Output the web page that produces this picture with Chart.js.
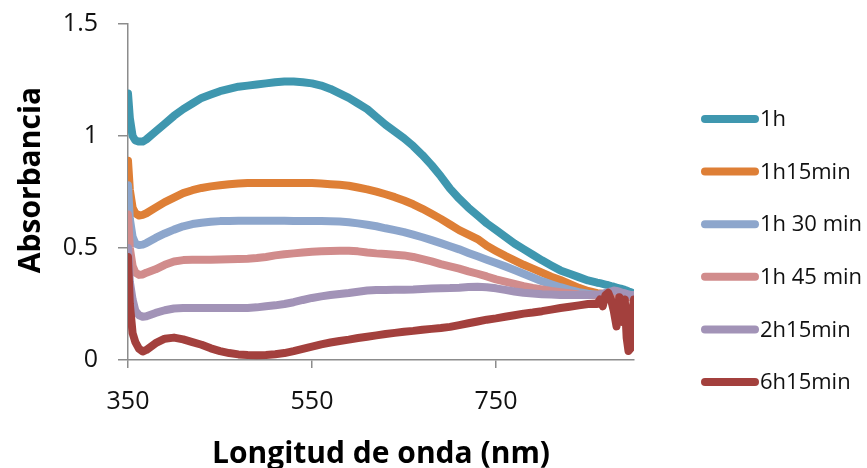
<!DOCTYPE html>
<html lang="es">
<head>
<meta charset="UTF-8">
<title>Absorbancia vs longitud de onda</title>
<style>
  html, body { margin: 0; padding: 0; background: #fff; }
  #wrap { width: 867px; height: 468px; }
</style>
</head>
<body>
<div id="wrap"><canvas id="spectra" width="867" height="468"></canvas></div>

<script src="https://cdn.jsdelivr.net/npm/chart.js"></script>
<script>
// longitudes de onda (nm), comunes a todas las series
const wavelengths = [350, 352, 355, 358, 362, 366, 370,
  380, 390, 400, 410, 420, 430, 440, 450, 460, 470, 480, 490, 500, 510, 520, 530, 540, 550,
  560, 570, 580, 590, 600, 610, 620, 630, 640, 650, 660, 670, 680, 690, 700, 710, 720, 730,
  740, 750, 760, 770, 780, 790, 800, 810, 820, 830, 840, 850,
  860, 863, 866, 869, 872, 875, 878, 881, 884, 887, 890, 892, 894, 896, 898, 900];

const abs1h = [1.19, 1.08, 1.00, 0.98, 0.975, 0.975, 0.985,
  1.02, 1.055, 1.09, 1.12, 1.145, 1.17, 1.185, 1.20, 1.21, 1.22, 1.225, 1.23, 1.235, 1.24, 1.243, 1.243, 1.24, 1.235,
  1.225, 1.21, 1.19, 1.17, 1.145, 1.12, 1.085, 1.05, 1.02, 0.99, 0.955, 0.915, 0.87, 0.82, 0.765, 0.72, 0.68, 0.645,
  0.61, 0.58, 0.55, 0.52, 0.495, 0.47, 0.445, 0.422, 0.40, 0.385, 0.37, 0.355,
  0.345, 0.343, 0.34, 0.337, 0.334, 0.33, 0.327, 0.323, 0.32, 0.317, 0.313, 0.31, 0.306, 0.303, 0.30, 0.297];

const abs1h15 = [0.89, 0.76, 0.68, 0.655, 0.645, 0.648, 0.655,
  0.68, 0.705, 0.725, 0.745, 0.758, 0.768, 0.775, 0.78, 0.785, 0.788, 0.79, 0.79, 0.79, 0.79, 0.79, 0.79, 0.79, 0.79,
  0.788, 0.785, 0.782, 0.778, 0.77, 0.762, 0.752, 0.74, 0.727, 0.712, 0.695, 0.675, 0.653, 0.63, 0.605, 0.58, 0.56, 0.54,
  0.51, 0.487, 0.465, 0.445, 0.425, 0.408, 0.39, 0.372, 0.357, 0.34, 0.322, 0.308,
  0.298, 0.297, 0.295, 0.293, 0.291, 0.29, 0.289, 0.288, 0.287, 0.286, 0.285, 0.284, 0.283, 0.282, 0.281, 0.28];

const abs1h30 = [0.78, 0.63, 0.55, 0.52, 0.513, 0.515, 0.522,
  0.545, 0.565, 0.582, 0.597, 0.607, 0.613, 0.617, 0.62, 0.621, 0.622, 0.622, 0.622, 0.622, 0.622, 0.622, 0.621, 0.621, 0.62,
  0.62, 0.619, 0.618, 0.615, 0.61, 0.604, 0.597, 0.588, 0.58, 0.571, 0.56, 0.548, 0.535, 0.522, 0.508, 0.494, 0.478, 0.463,
  0.448, 0.433, 0.418, 0.402, 0.385, 0.368, 0.352, 0.338, 0.325, 0.313, 0.303, 0.296,
  0.29, 0.289, 0.288, 0.287, 0.286, 0.285, 0.285, 0.284, 0.284, 0.283, 0.283, 0.282, 0.282, 0.281, 0.28, 0.28];

const abs1h45 = [0.65, 0.50, 0.42, 0.39, 0.38, 0.382, 0.39,
  0.405, 0.425, 0.44, 0.446, 0.447, 0.447, 0.448, 0.449, 0.45, 0.451, 0.452, 0.455, 0.46, 0.467, 0.472, 0.476, 0.48, 0.483,
  0.485, 0.487, 0.488, 0.488, 0.485, 0.48, 0.476, 0.473, 0.47, 0.467, 0.46, 0.45, 0.44, 0.428, 0.418, 0.408, 0.396, 0.385,
  0.373, 0.36, 0.35, 0.34, 0.33, 0.322, 0.315, 0.308, 0.303, 0.298, 0.293, 0.29,
  0.287, 0.286, 0.286, 0.285, 0.285, 0.284, 0.284, 0.283, 0.283, 0.282, 0.282, 0.281, 0.281, 0.28, 0.28, 0.28];

const abs2h15 = [0.50, 0.35, 0.27, 0.22, 0.20, 0.193, 0.195,
  0.21, 0.222, 0.23, 0.232, 0.232, 0.232, 0.232, 0.232, 0.232, 0.232, 0.232, 0.235, 0.24, 0.244, 0.25, 0.258, 0.268, 0.277,
  0.284, 0.29, 0.295, 0.299, 0.305, 0.31, 0.313, 0.313, 0.314, 0.314, 0.315, 0.317, 0.319, 0.32, 0.321, 0.323, 0.326, 0.327,
  0.325, 0.32, 0.313, 0.306, 0.30, 0.297, 0.294, 0.292, 0.29, 0.29, 0.29, 0.29,
  0.292, 0.294, 0.296, 0.30, 0.303, 0.306, 0.31, 0.308, 0.305, 0.30, 0.298, 0.295, 0.293, 0.29, 0.29, 0.29];

const abs6h15 = [0.46, 0.25, 0.12, 0.08, 0.05, 0.038, 0.045,
  0.075, 0.095, 0.10, 0.092, 0.08, 0.068, 0.052, 0.04, 0.031, 0.025, 0.022, 0.021, 0.022, 0.026, 0.031, 0.04, 0.05, 0.06,
  0.07, 0.078, 0.085, 0.091, 0.098, 0.104, 0.11, 0.116, 0.121, 0.126, 0.13, 0.135, 0.139, 0.143, 0.148, 0.156, 0.164, 0.172,
  0.18, 0.186, 0.193, 0.20, 0.207, 0.212, 0.218, 0.225, 0.232, 0.238, 0.244, 0.25,
  0.25, 0.27, 0.24, 0.29, 0.30, 0.27, 0.22, 0.15, 0.28, 0.17, 0.27, 0.10, 0.04, 0.05, 0.22, 0.27];

const seriesNames = ['1h', '1h15min', '1h 30 min', '1h 45 min', '2h15min', '6h15min'];
const seriesValues = [abs1h, abs1h15, abs1h30, abs1h45, abs2h15, abs6h15];
const seriesColors = ['#3f97af', '#de7f36', '#8da6cc', '#d18c8c', '#a293b7', '#a3403d'];

const xTicks = [350, 550, 750];
const yTicks = [0, 0.5, 1, 1.5];
const xTitle = 'Longitud de onda (nm)';
const yTitle = 'Absorbancia';

const datasets = seriesNames.map((name, i) => ({
  label: name,
  data: wavelengths.map((w, j) => ({ x: w, y: seriesValues[i][j] })),
  borderColor: seriesColors[i],
  backgroundColor: seriesColors[i],
  borderWidth: 8,
  borderJoinStyle: 'round',
  borderCapStyle: 'round',
  pointRadius: 0,
  tension: 0,
  order: seriesNames.length - i   // la última serie queda encima
}));

// títulos de los ejes
const axisTitles = {
  id: 'axisTitles',
  afterDraw(chart) {
    const { ctx, chartArea } = chart;
    ctx.save();
    ctx.fillStyle = '#000';
    ctx.font = 'bold 30px "Open Sans"';
    ctx.textAlign = 'center';
    ctx.textBaseline = 'alphabetic';
    ctx.fillText(xTitle, (chartArea.left + chartArea.right) / 2, 463);
    ctx.translate(40, 180);
    ctx.rotate(-Math.PI / 2);
    ctx.fillText(yTitle, 0, 0);
    ctx.restore();
  }
};

// leyenda a la derecha
const sideLegend = {
  id: 'sideLegend',
  afterDraw(chart) {
    const ctx = chart.ctx;
    ctx.save();
    ctx.font = '22px "Open Sans"';
    ctx.textBaseline = 'middle';
    ctx.textAlign = 'left';
    chart.data.datasets.forEach((ds, i) => {
      const y = 119 + i * 52.6;
      ctx.strokeStyle = ds.borderColor;
      ctx.lineWidth = 8;
      ctx.lineCap = 'round';
      ctx.beginPath();
      ctx.moveTo(705, y);
      ctx.lineTo(755, y);
      ctx.stroke();
      ctx.fillStyle = '#111';
      ctx.fillText(ds.label, 760, y + 1);
    });
    ctx.restore();
  }
};

new Chart(document.getElementById('spectra'), {
  type: 'line',
  data: { datasets },
  plugins: [axisTitles, sideLegend],
  options: {
    responsive: false,
    animation: false,
    devicePixelRatio: 1,
    layout: { padding: { top: 24, right: 233, left: 0, bottom: 0 } },
    plugins: { legend: { display: false }, tooltip: { enabled: false } },
    scales: {
      x: {
        type: 'linear',
        min: 350,
        max: 900,
        afterFit: s => { s.height = 108; s.paddingLeft = 0; s.paddingRight = 0; },
        afterBuildTicks: s => { s.ticks = xTicks.map(v => ({ value: v })); },
        border: { color: '#8c8c8c', width: 1.5 },
        grid: { drawOnChartArea: false, drawTicks: true, tickLength: 8, color: '#8c8c8c', lineWidth: 1.5 },
        ticks: { color: '#111', padding: 19, maxRotation: 0, font: { family: 'Open Sans', size: 25 } }
      },
      y: {
        min: 0,
        max: 1.5,
        afterFit: s => { s.width = 128; s.paddingTop = 0; s.paddingBottom = 0; },
        afterBuildTicks: s => { s.ticks = yTicks.map(v => ({ value: v })); },
        border: { color: '#8c8c8c', width: 1.5 },
        grid: { drawOnChartArea: false, drawTicks: true, tickLength: 10, color: '#8c8c8c', lineWidth: 1.5 },
        ticks: { color: '#111', padding: 20, font: { family: 'Open Sans', size: 25 }, callback: v => String(v) }
      }
    }
  }
});
</script>
</body>
</html>
